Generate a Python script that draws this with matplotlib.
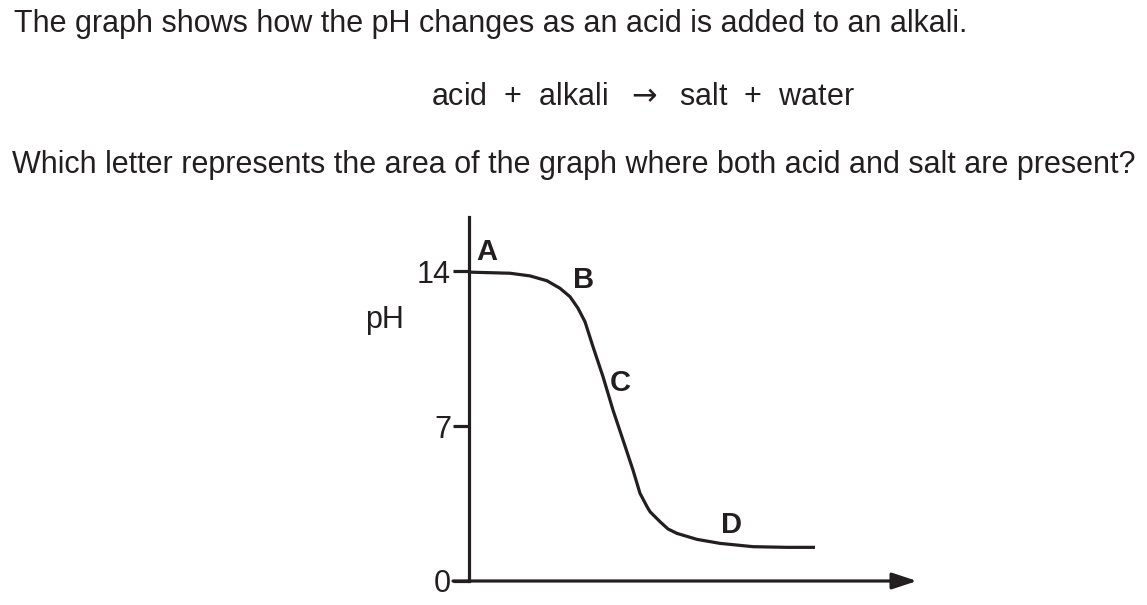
import matplotlib
matplotlib.use("Agg")
import matplotlib.pyplot as plt

plt.rcParams['font.family'] = ['Liberation Sans', 'DejaVu Sans']

# volume of acid added (arbitrary units) and pH
volume = [0, 4.1, 6.1, 7.8, 9.1, 10.1, 10.9, 11.6, 12.4, 13.4, 14.4, 15.4, 16.4,
          17.1, 17.8, 18.1, 19.1, 19.9, 20.8, 22.8, 25.1, 28.4, 31.8, 34.6]
ph = [13.95, 13.9, 13.78, 13.56, 13.22, 12.84, 12.32, 11.71, 10.58, 9.23, 7.72, 6.37, 5.01,
      3.96, 3.36, 3.13, 2.68, 2.35, 2.15, 1.88, 1.70, 1.55, 1.52, 1.52]

y_ticks = [0, 7, 14]
y_tick_labels = ['0', '7', '14']

# region letters and where they sit on the graph
letters = ['A', 'B', 'C', 'D']
letter_x = [1.8, 11.5, 15.1, 26.2]
letter_y = [14.86, 13.6, 8.94, 2.55]

ink = '#231f20'
fs = 22

fig = plt.figure(figsize=(11.47, 6.05), dpi=100)

# question text
fig.text(14 / 1147, 1 - 24 / 605, 'The graph shows how the pH changes as an acid is added to an alkali.',
         fontsize=fs, color=ink, ha='left', va='center')
fig.text(643 / 1147, 1 - 97 / 605, r'acid  +  alkali  $\rightarrow$  salt  +  water',
         fontsize=fs, color=ink, ha='center', va='center')
fig.text(12 / 1147, 1 - 165 / 605, 'Which letter represents the area of the graph where both acid and salt are present?',
         fontsize=fs, color=ink, ha='left', va='center')

# axes placed so the y axis sits at x=469px and pH 0 at y=581px
ax = fig.add_axes([469 / 1147, (605 - 581) / 605, 448 / 1147, 364 / 605])
ax.set_xlim(0, 44.8)
ax.set_ylim(0, 16.44)
ax.patch.set_alpha(0)

for side in ['top', 'right', 'bottom']:
    ax.spines[side].set_visible(False)
ax.spines['left'].set_linewidth(2.3)
ax.spines['left'].set_color(ink)

ax.set_xticks([])
ax.set_yticks(y_ticks)
ax.set_yticklabels(y_tick_labels)
ax.tick_params(axis='y', length=11.5, width=2.3, color=ink, labelcolor=ink,
               labelsize=fs, pad=1.5)

# x axis with arrow head
ax.annotate('', xy=(44.8, 0), xytext=(-1.6, 0), annotation_clip=False,
            arrowprops=dict(arrowstyle='-|>,head_length=1.0,head_width=0.33',
                            mutation_scale=15, lw=2.3, color=ink,
                            shrinkA=0, shrinkB=0))

ax.plot(volume, ph, color=ink, lw=2.3, solid_capstyle='butt',
        solid_joinstyle='round', clip_on=False)

for letter, lx, ly in zip(letters, letter_x, letter_y):
    ax.text(lx, ly, letter, fontsize=21, fontweight='bold', color=ink,
            ha='center', va='center')

ax.text(-8.4, 11.8, 'pH', fontsize=fs, color=ink, ha='center', va='center')

fig.savefig('out.png', dpi=100)
